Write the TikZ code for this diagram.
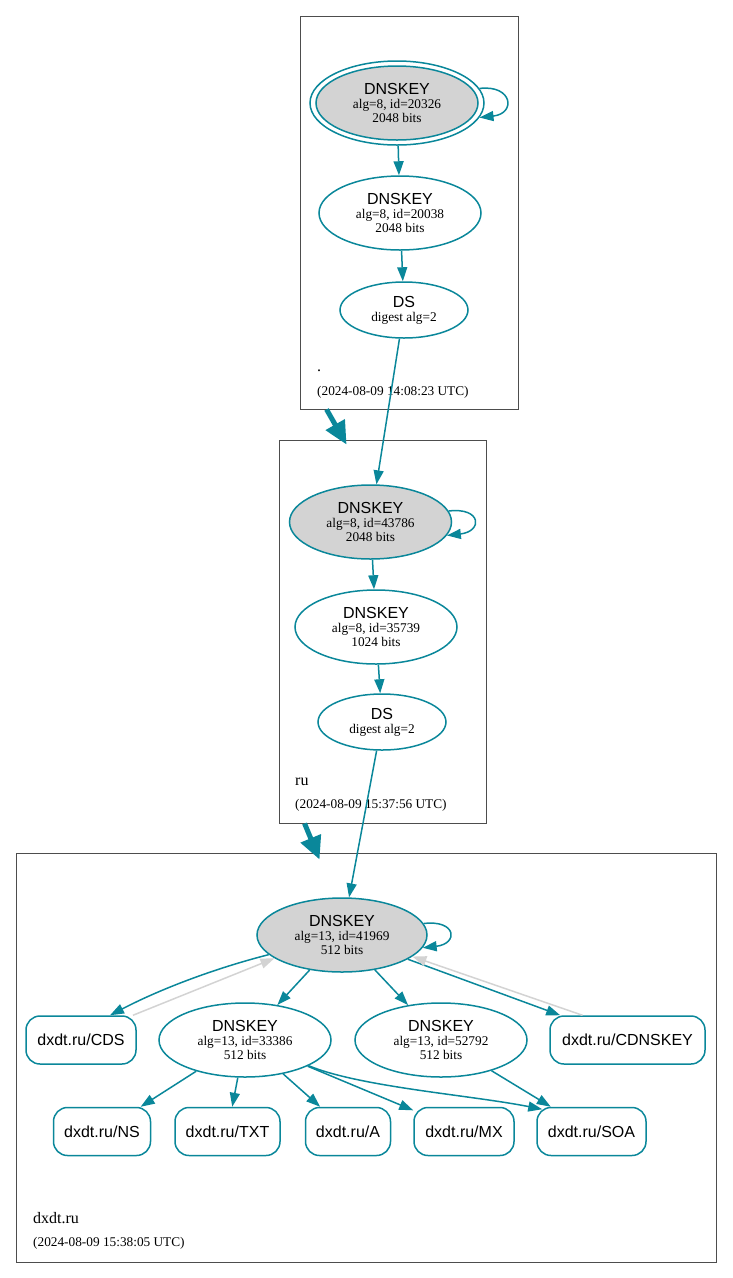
\documentclass[tikz,border=0pt]{standalone}
\usepackage{fontspec}
\setmainfont{Liberation Serif}
\setsansfont{Liberation Sans}
\usetikzlibrary{shapes.geometric, arrows.meta}
\definecolor{valid}{HTML}{0A879A}
\definecolor{keyfill}{HTML}{D3D3D3}
\definecolor{zoneline}{HTML}{4D4D4D}
\newcommand{\dnskey}[2]{{\sffamily\fontsize{16}{14}\selectfont DNSKEY}\\#1\\#2}
\newcommand{\dsrec}[1]{{\sffamily\fontsize{16}{14}\selectfont DS}\\#1}

\begin{document}
\begin{tikzpicture}[x=1pt, y=-1pt,
    key/.style={ellipse, draw=valid, line width=1.5pt, inner sep=0pt, minimum width=162, minimum height=74, align=center, font=\fontsize{13.3}{14}\selectfont},
    ksk/.style={key, fill=keyfill},
    dsnode/.style={key, minimum width=128, minimum height=56},
    rrset/.style={draw=valid, line width=1.5pt, rounded corners=14pt, minimum height=48, inner sep=0pt, font=\sffamily\fontsize{16}{16}\selectfont},
    zone/.style={draw=zoneline, line width=0.9pt, inner sep=0pt},
    zonename/.style={anchor=base west, inner sep=0pt, font=\fontsize{16}{16}\selectfont},
    zonedate/.style={anchor=base west, inner sep=0pt, font=\fontsize{13.3}{14}\selectfont},
    edge/.style={draw=valid, line width=1.5pt, -{Triangle[length=14pt, width=10pt]}},
    cdsedge/.style={draw=keyfill, line width=1.5pt, -{Triangle[length=14pt, width=10pt]}},
    delegation/.style={draw=valid, line width=5pt, -{Triangle[length=23pt, width=21pt]}}]
  \useasboundingbox (0,0) rectangle (732,1278);

  % zones
  \node[zone, minimum width=218, minimum height=393] (zroot) at (409,212.5) {};
  \node[zone, minimum width=207, minimum height=383] (zru) at (382.5,631.5) {};
  \node[zone, minimum width=700, minimum height=409] (zdx) at (366,1057.5) {};

  % .
  \node[key, minimum width=174, minimum height=84] (k0o) at (397,103) {};
  \node[ksk] (k0) at (397,103) {\dnskey{alg=8, id=20326}{2048 bits}};
  \node[key] (z0) at (400,213) {\dnskey{alg=8, id=20038}{2048 bits}};
  \node[dsnode] (ds0) at (404,310) {\dsrec{digest alg=2}};
  \node[zonename] (n0) at (317,371) {.};
  \node[zonedate] (d0) at (317,395.5) {(2024-08-09 14:08:23 UTC)};

  % ru
  \node[ksk] (k1) at (370.5,522) {\dnskey{alg=8, id=43786}{2048 bits}};
  \node[key] (z1) at (376,627) {\dnskey{alg=8, id=35739}{1024 bits}};
  \node[dsnode] (ds1) at (382,722) {\dsrec{digest alg=2}};
  \node[zonename] (n1) at (295,785) {ru};
  \node[zonedate] (d1) at (295,808) {(2024-08-09 15:37:56 UTC)};

  % dxdt.ru
  \node[ksk, minimum width=170] (k2) at (342,935) {\dnskey{alg=13, id=41969}{512 bits}};
  \node[key, minimum width=172] (z2) at (245,1040) {\dnskey{alg=13, id=33386}{512 bits}};
  \node[key, minimum width=172] (z3) at (441,1040) {\dnskey{alg=13, id=52792}{512 bits}};
  \node[rrset, minimum width=110] (cds) at (81,1040) {dxdt.ru/CDS};
  \node[rrset, minimum width=155] (cdnskey) at (627.5,1040) {dxdt.ru/CDNSKEY};
  \node[rrset, minimum width=97] (ns) at (102,1131.5) {dxdt.ru/NS};
  \node[rrset, minimum width=105] (txt) at (227.5,1131.5) {dxdt.ru/TXT};
  \node[rrset, minimum width=85] (a) at (348,1131.5) {dxdt.ru/A};
  \node[rrset, minimum width=100] (mx) at (464,1131.5) {dxdt.ru/MX};
  \node[rrset, minimum width=109] (soa) at (591.5,1131.5) {dxdt.ru/SOA};
  \node[zonename] (n2) at (33,1223.5) {dxdt.ru};
  \node[zonedate] (d2) at (33,1246) {(2024-08-09 15:38:05 UTC)};

  \draw[delegation] ([xshift=27pt]zroot.south west) -- ([xshift=68pt, yshift=-5pt]zru.north west);
  \draw[delegation] ([xshift=26pt]zru.south west) -- ([xshift=304pt, yshift=-7pt]zdx.north west);

  \draw[edge] (k0o.10) .. controls +(33,-4) and +(37,-4) .. (k0o.-10);
  \draw[edge] (k0o) -- (z0);
  \draw[edge] (z0) -- (ds0);
  \draw[edge] (ds0) -- (k1);
  \draw[edge] (k1.8) .. controls +(33,-4) and +(36,-4) .. (k1.-10);
  \draw[edge] (k1) -- (z1);
  \draw[edge] (z1) -- (ds1);
  \draw[edge] (ds1) -- (k2);
  \draw[edge] (k2.8) .. controls +(33,-4) and +(36,-4) .. (k2.-9);
  \draw[edge] (k2) -- (z2);
  \draw[edge] (k2) -- (z3);
  \draw[edge] (k2.195) .. controls +(-55,14) and +(50,-26) .. ([xshift=29pt]cds.north);
  \draw[cdsedge] ([xshift=52pt]cds.north) -- (k2.199);
  \draw[edge] (k2) -- (cdnskey);
  \draw[cdsedge] ([xshift=-45pt]cdnskey.north) -- (k2.-17);
  \draw[edge] (z2) -- (ns);
  \draw[edge] (z2) -- (txt);
  \draw[edge] (z2) -- (a);
  \draw[edge] (z2) -- (mx);
  \draw[edge] (z2.-22) .. controls (360,1087) and (470,1095) .. ([xshift=6pt, yshift=-2.5pt]soa.north west);
  \draw[edge] (z3) -- (soa);
\end{tikzpicture}
\end{document}
